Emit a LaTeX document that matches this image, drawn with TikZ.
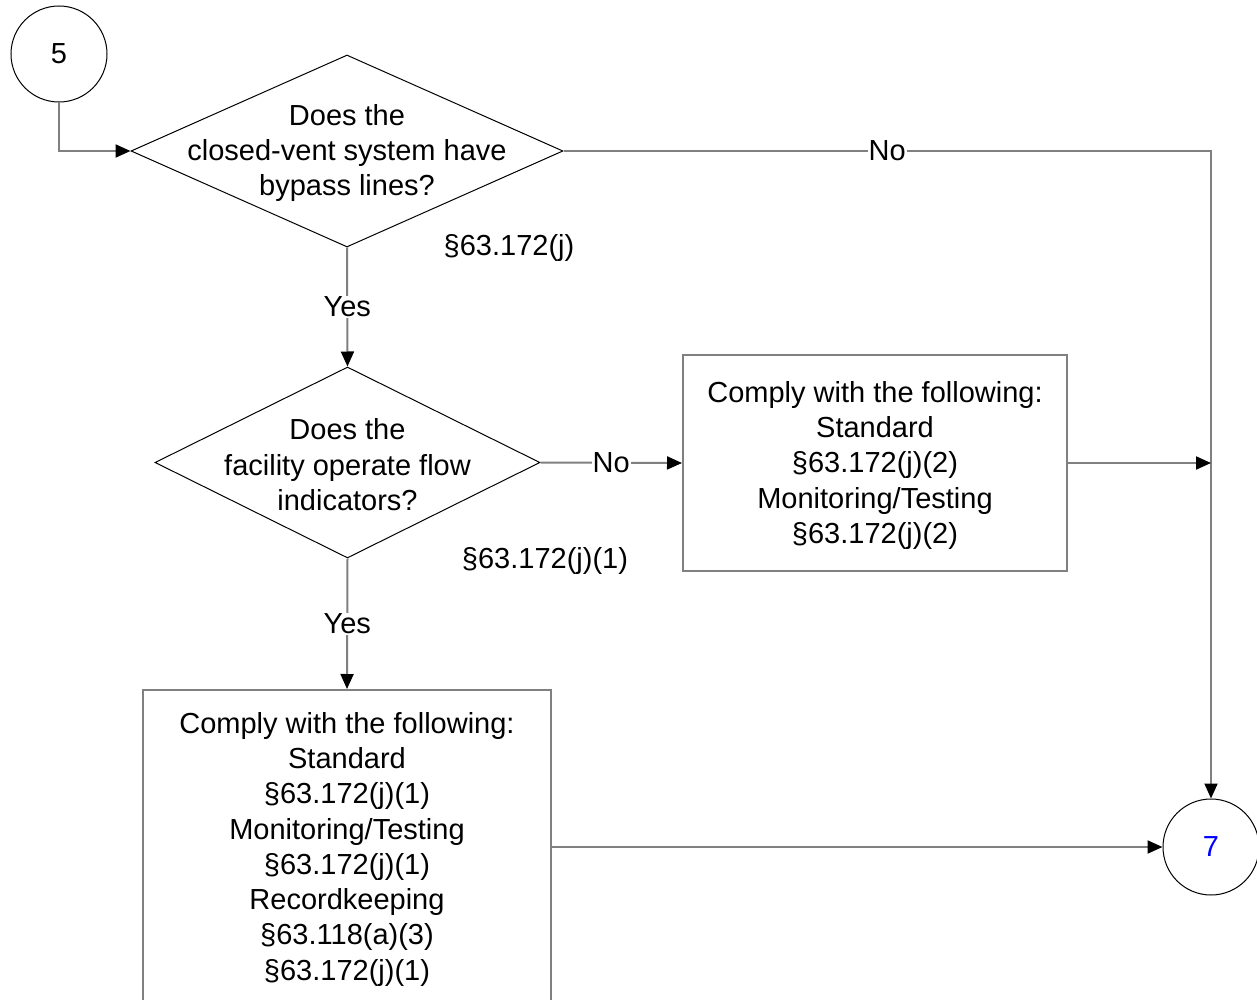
\documentclass[tikz,border=0pt]{standalone}
\usepackage{fontspec}
\setmainfont{Liberation Sans}
\usetikzlibrary{arrows.meta,shapes.geometric}
\definecolor{linegray}{RGB}{128,128,128}
\definecolor{numblue}{RGB}{0,0,255}
\begin{document}
\begin{tikzpicture}[x=1pt,y=-1pt,
  conn/.style={draw=linegray, line width=2pt, -{Triangle[length=15pt,width=13pt,color=black]}},
  lbl/.style={fill=white, inner sep=1pt, font=\fontsize{29}{35}\selectfont},
  txt/.style={font=\fontsize{29}{35.3}\selectfont, align=center, inner sep=0pt, yshift=-2.2pt},
  dia/.style={draw=black, line width=1pt, diamond, minimum width=432pt, minimum height=192pt, inner sep=0pt},
  boxnode/.style={draw=linegray, line width=2pt, rectangle, inner sep=0pt},
  conncircle/.style={circle, draw=black, line width=1pt, minimum size=96pt, inner sep=0pt, font=\fontsize{29}{35}\selectfont}
]
\useasboundingbox (0,0) rectangle (1257,1000);

\node[conncircle] (c5) at (59,54) {\raisebox{-1pt}{5}};
\node[conncircle, text=numblue] (c7) at (1211,847) {7};

\node[dia] (d1) at (347,151) {};
\node[txt] (d1t) at (d1.center) {Does the\\closed-vent system have\\bypass lines?};
\node[txt] (r1) at (509,246) {§63.172(j)};

\node[dia, minimum width=385pt, minimum height=191pt] (d2) at (347.5,462.5) {};
\node[txt] (d2t) at (d2.center) {Does the\\facility operate flow\\indicators?};
\node[txt] (r2) at (545,559) {§63.172(j)(1)};

\node[boxnode, minimum width=384pt, minimum height=216pt] (b1) at (875,463) {};
\node[txt] (b1t) at (b1.center)
  {Comply with the following:\\Standard\\§63.172(j)(2)\\Monitoring/Testing\\§63.172(j)(2)};

\node[boxnode, minimum width=408pt, minimum height=314pt] (b2) at (347,847) {};
\node[txt] (b2t) at (b2.center)
  {Comply with the following:\\Standard\\§63.172(j)(1)\\Monitoring/Testing\\§63.172(j)(1)\\Recordkeeping\\§63.118(a)(3)\\§63.172(j)(1)};

\coordinate (j1) at (c7.north |- b1.east);

\draw[conn] (c5.south) |- (d1.west);
\draw[conn] (d1.east) -| node[lbl, pos=0.25] {No} (c7.north);
\draw[conn] (d1.south) -- node[lbl] {Yes} (d2.north);
\draw[conn] (d2.east) -- node[lbl] {No} (b1.west);
\draw[conn] (d2.south) -- node[lbl] {Yes} (b2.north);
\draw[conn] (b1.east) -- (j1);
\draw[conn] (b2.east) -- (c7.west);
\end{tikzpicture}
\end{document}
